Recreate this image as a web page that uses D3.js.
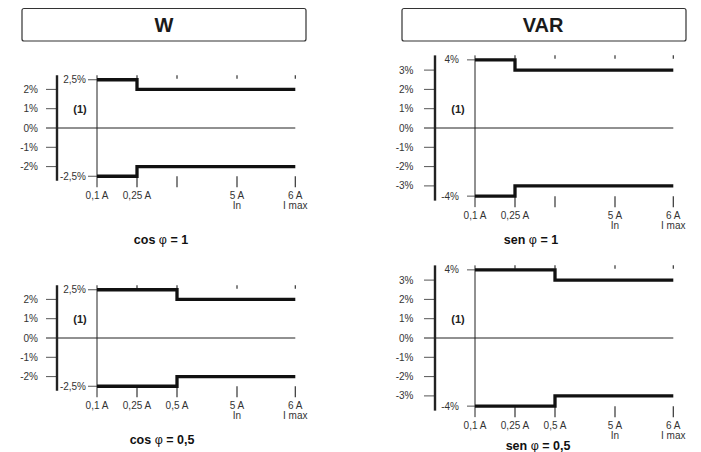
<!DOCTYPE html>
<html>
<head>
<meta charset="utf-8">
<script src="https://cdn.jsdelivr.net/npm/d3@7"></script>
<style>
  body { margin: 0; background: #fff; }
  text { font-family: "Liberation Sans Narrow", "Liberation Sans", Arial, sans-serif; }
</style>
</head>
<body>
<div class="vis-chart"></div>
<script>
// current breakpoints on x and their labels
const currents = [0.1, 0.25, 0.5, 5, 6]
const currentLabels = ['0,1 A', '0,25 A', '0,5 A', '5 A', '6 A']
const currentSubLabels = ['', '', '', 'In', 'I max']

// steps: x where each limit starts
const stepX_1 = [0.1, 0.25, 6]
const stepX_05 = [0.1, 0.5, 6]
const wUpper = [2.5, 2, 2]
const wLower = [-2.5, -2, -2]
const varUpper = [4, 3, 3]
const varLower = [-4, -3, -3]

const wTicks = [-2, -1, 0, 1, 2]
const varTicks = [-3, -2, -1, 0, 1, 2, 3]

const headers = ['W', 'VAR']

const width = 701, height = 452

const svg = d3.select('.vis-chart').append('svg')
    .attr('width', width)
    .attr('height', height)

/******** header boxes ********/
const headerPos = [{ x: 22, w: 284, cx: 164 }, { x: 402, w: 284, cx: 543 }]
headers.forEach((h, i) => {
    svg.append('rect')
        .attr('x', headerPos[i].x).attr('y', 8.5)
        .attr('width', headerPos[i].w).attr('height', 32.5)
        .attr('rx', 2)
        .attr('fill', 'none')
        .attr('stroke', '#333')
        .attr('stroke-width', 1.2)
    svg.append('text')
        .attr('x', headerPos[i].cx).attr('y', 32)
        .attr('text-anchor', 'middle')
        .style('font-size', '20px')
        .style('font-weight', 'bold')
        .attr('fill', '#1a1a1a')
        .text(h)
})

const panels = [
    { axisX: 57, zeroY: 128, kind: 'W', stepX: stepX_1, caption: ['cos ', 'φ', ' = 1'], capX: 161, capY: 244 },
    { axisX: 435, zeroY: 128, kind: 'VAR', stepX: stepX_1, caption: ['sen ', 'φ', ' = 1'], capX: 531, capY: 244 },
    { axisX: 57, zeroY: 338, kind: 'W', stepX: stepX_05, caption: ['cos ', 'φ', ' = 0,5'], capX: 162, capY: 444 },
    { axisX: 435, zeroY: 338, kind: 'VAR', stepX: stepX_05, caption: ['sen ', 'φ', ' = 0,5'], capX: 538, capY: 450 }
]

const fmt = d => String(d).replace('.', ',') + '%'
const unit = 19.3

panels.forEach(p => drawPanel(p))

function drawPanel(p) {
    const g = svg.append('g')
    const isW = p.kind === 'W'
    const upper = isW ? wUpper : varUpper
    const lower = isW ? wLower : varLower
    const ticks = isW ? wTicks : varTicks
    const maxV = d3.max(upper), minV = d3.min(lower)

    const x0 = p.axisX + 40
    const xScale = d3.scaleLinear()
        .domain(currents)
        .range([0, 40, 80, 140, 198.3].map(v => v + x0))

    // VAR chart squeezes the 3..4 % band, W chart is linear
    const yScale = isW
        ? d3.scaleLinear().domain([minV, maxV]).range([p.zeroY - minV * unit, p.zeroY - maxV * unit])
        : d3.scaleLinear().domain([-4, -3, 3, 4])
            .range([p.zeroY + 3.53 * unit, p.zeroY + 3 * unit, p.zeroY - 3 * unit, p.zeroY - 3.53 * unit])

    const yTop = yScale(maxV) - 4.5
    const yBot = yScale(minV)
    const xEnd = xScale(6)

    // y ticks
    ticks.forEach(t => {
        g.append('line')
            .attr('x1', p.axisX - 11).attr('x2', t === 0 ? xEnd : p.axisX)
            .attr('y1', yScale(t)).attr('y2', yScale(t))
            .attr('stroke', t === 0 ? '#222' : '#555')
            .attr('stroke-width', 1)
        g.append('text')
            .attr('x', p.axisX - (isW ? 19 : 21.5)).attr('y', yScale(t) + 3.5)
            .attr('text-anchor', 'end')
            .style('font-size', '10px')
            .attr('fill', '#333')
            .text(fmt(t))
    })

    // thick axis
    g.append('line')
        .attr('x1', p.axisX).attr('x2', p.axisX)
        .attr('y1', yTop).attr('y2', yBot + 4.5)
        .attr('stroke', '#222')
        .attr('stroke-width', 2.4)

    // limit labels with short ticks
    const tickLen = isW ? 9 : 8
    const lblGap = isW ? 11 : 16
    ;[maxV, minV].forEach(v => {
        g.append('line')
            .attr('x1', x0 - tickLen).attr('x2', x0)
            .attr('y1', yScale(v)).attr('y2', yScale(v))
            .attr('stroke', '#555')
        g.append('text')
            .attr('x', x0 - lblGap).attr('y', yScale(v) + 3.5)
            .attr('text-anchor', 'end')
            .style('font-size', '10px')
            .attr('fill', '#333')
            .text(fmt(v))
    })

    // (1)
    g.append('text')
        .attr('x', p.axisX + 23).attr('y', yScale(1) + 4)
        .attr('text-anchor', 'middle')
        .style('font-size', '11px')
        .style('font-weight', 'bold')
        .attr('fill', '#222')
        .text('(1)')

    // vertical line at 0,1 A
    g.append('line')
        .attr('x1', x0).attr('x2', x0)
        .attr('y1', yTop).attr('y2', yBot + 11)
        .attr('stroke', '#222')
        .attr('stroke-width', 1)

    // x ticks (top and bottom), labels
    currents.forEach((c, i) => {
        const cx = xScale(c)
        if (i > 0) {
            g.append('line')
                .attr('x1', cx).attr('x2', cx)
                .attr('y1', yTop).attr('y2', yTop + 3.5)
                .attr('stroke', '#333').attr('stroke-width', 1.2)
            g.append('line')
                .attr('x1', cx).attr('x2', cx)
                .attr('y1', yBot).attr('y2', yBot + 11)
                .attr('stroke', '#333').attr('stroke-width', 1.2)
        }
        const lbl = (i === 2 && p.stepX[1] !== 0.5) ? '' : currentLabels[i]
        g.append('text')
            .attr('x', cx).attr('y', yBot + 23)
            .attr('text-anchor', 'middle')
            .style('font-size', '10px')
            .attr('fill', '#333')
            .text(lbl)
        g.append('text')
            .attr('x', cx).attr('y', yBot + 33)
            .attr('text-anchor', 'middle')
            .style('font-size', '10px')
            .attr('fill', '#333')
            .text(currentSubLabels[i])
    })

    // step limit lines
    const line = d3.line()
        .x(d => xScale(d[0]))
        .y(d => yScale(d[1]))
        .curve(d3.curveStepAfter)
    ;[upper, lower].forEach(vals => {
        g.append('path')
            .datum(p.stepX.map((xv, i) => [xv, vals[i]]))
            .attr('d', line)
            .attr('fill', 'none')
            .attr('stroke', '#111')
            .attr('stroke-width', 3.3)
    })

    // caption
    const cap = g.append('text')
        .attr('x', p.capX).attr('y', p.capY)
        .attr('text-anchor', 'middle')
        .style('font-size', '12.5px')
        .attr('fill', '#111')
    cap.append('tspan').style('font-weight', 'bold').text(p.caption[0])
    cap.append('tspan').style('font-weight', 'normal').text(p.caption[1])
    cap.append('tspan').style('font-weight', 'bold').text(p.caption[2])
}
</script>
</body>
</html>
